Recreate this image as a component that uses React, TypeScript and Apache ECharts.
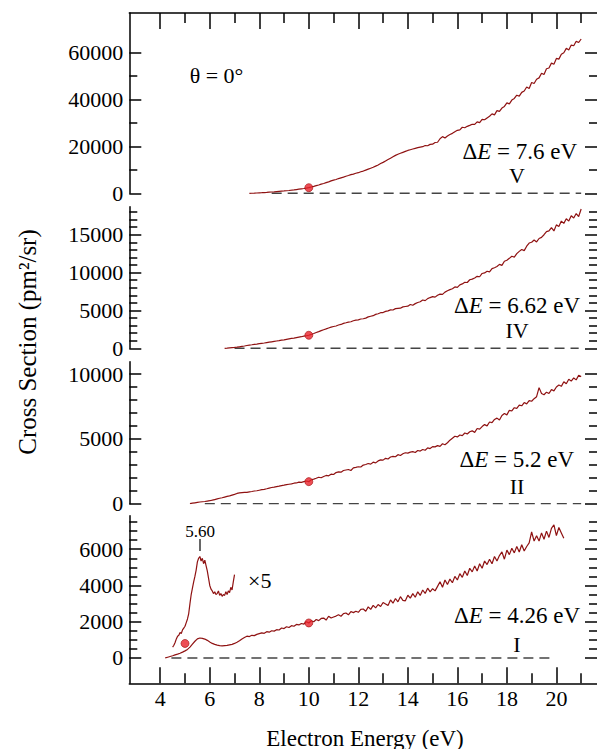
import React, { useEffect, useRef } from "react";
import * as echarts from "echarts";

// ---------- data (electron energy in eV, cross section in pm^2/sr) ----------
const STEP = 0.1;

// Panel V : ΔE = 7.6 eV
const V_START = 7.6;
const V_VALUES = [
  0, 30, 70, 130, 200, 260, 330, 400, 480, 560,
  640, 730, 820, 910, 1000, 1100, 1200, 1320, 1450, 1600,
  1750, 1900, 2050, 2220, 2400, 2680, 2950, 3250, 3550, 3900,
  4200, 4550, 4900, 5300, 5650, 5900, 6300, 6600, 6900, 7300,
  7600, 7950, 8200, 8550, 8800, 9200, 9500, 9900, 10300, 10700,
  11100, 11600, 12100, 12700, 13200, 13800, 14400, 15000, 15600, 16200,
  16700, 17100, 17500, 17900, 18300, 18600, 18900, 19200, 19500, 19700,
  19900, 20400, 20300, 20900, 21000, 21700, 21800, 23300, 24200, 23600,
  24500, 25100, 25600, 26300, 26900, 27100, 28200, 28000, 28600, 29000,
  29500, 29400, 30500, 30200, 31600, 31400, 32200, 32900, 33900, 33500,
  35300, 35000, 36400, 37100, 38600, 38200, 39800, 40500, 41900, 41500,
  43100, 43700, 45400, 44800, 47300, 46900, 48700, 49300, 51300, 50700,
  53200, 53500, 55600, 55100, 57600, 57300, 59400, 60000, 61900, 61200,
  63300, 63000, 64900, 64400, 65900,
];

// Panel IV : ΔE = 6.62 eV
const IV_START = 6.6;
const IV_VALUES = [
  0, 20, 50, 80, 110, 150, 200, 250, 300, 370,
  430, 470, 520, 560, 610, 660, 700, 760, 810, 860,
  910, 960, 1010, 1070, 1120, 1180, 1240, 1300, 1350, 1410,
  1470, 1530, 1600, 1660, 1720, 1830, 1950, 2080, 2200, 2330,
  2450, 2560, 2680, 2790, 2880, 2950, 3080, 3150, 3290, 3370,
  3460, 3510, 3640, 3720, 3760, 3870, 3900, 3990, 4150, 4230,
  4310, 4480, 4560, 4700, 4720, 4880, 4950, 5080, 5060, 5240,
  5280, 5300, 5470, 5520, 5560, 5780, 5690, 5900, 6050, 6150,
  6380, 6300, 6560, 6700, 6820, 6760, 7010, 7150, 7120, 7420,
  7600, 7750, 7860, 8100, 8050, 8380, 8500, 8720, 8690, 9050,
  9130, 9280, 9500, 9450, 9880, 9960, 10180, 10100, 10520, 10640,
  10800, 11080, 10950, 11500, 11620, 11880, 12150, 12050, 12500, 12800,
  13050, 12900, 13480, 13900, 14000, 14300, 14050, 14500, 14650, 15000,
  15400, 15500, 15950, 15500, 16300, 16100, 16800, 16500, 17100, 16800,
  17500, 17200, 17800, 17400, 18400,
];

// Panel II : ΔE = 5.2 eV
const II_START = 5.2;
const II_VALUES = [
  0, 40, 70, 100, 130, 150, 170, 200, 230, 270,
  320, 370, 420, 460, 510, 560, 600, 660, 720, 790,
  830, 850, 870, 880, 910, 940, 980, 1000, 1040, 1080,
  1110, 1150, 1200, 1250, 1280, 1320, 1350, 1400, 1430, 1470,
  1500, 1530, 1580, 1600, 1660, 1640, 1700, 1750, 1700, 1850,
  1900, 1960, 2040, 2000, 2100, 2180, 2150, 2280, 2250, 2400,
  2450, 2430, 2560, 2600, 2640, 2560, 2760, 2800, 2850, 2830,
  2980, 3020, 3100, 3050, 3200, 3150, 3300, 3380, 3360, 3500,
  3450, 3600, 3650, 3620, 3780, 3720, 3850, 3930, 3900, 3980,
  4020, 3950, 4100, 4060, 4180, 4120, 4300, 4250, 4400, 4380,
  4480, 4420, 4620, 4550, 4700, 4900, 5050, 5200, 5150, 5300,
  5250, 5450, 5380, 5550, 5620, 5500, 5800, 5750, 5950, 6100,
  6000, 6300, 6250, 6500, 6600, 6450, 6800, 6950, 6850, 7200,
  7150, 7400, 7350, 7600, 7550, 7800, 7700, 7950, 7900, 8100,
  8250, 8950, 8500, 8400, 8600, 8500, 8800, 8700, 9000, 9150,
  9050, 9400, 9250, 9600, 9450, 9700, 9550, 9900, 9800,
];

// Panel I : ΔE = 4.26 eV
const I_START = 4.2;
const I_VALUES = [
  0, 40, 80, 120, 170, 210, 260, 320, 390, 470,
  600, 760, 920, 1050, 1100, 1080, 1040, 970, 880, 800,
  750, 710, 680, 670, 680, 690, 720, 750, 800, 870,
  950, 1050, 1130, 1200, 1180, 1250, 1230, 1300, 1340, 1380,
  1360, 1450, 1420, 1500, 1480, 1560, 1540, 1650, 1620, 1720,
  1680, 1780, 1750, 1850, 1820, 1900, 1870, 2000, 1930, 2050,
  2000, 2120, 2060, 2180, 2200, 2090, 2300, 2200, 2260, 2310,
  2380, 2300, 2450, 2480, 2380, 2560, 2500, 2580, 2520, 2680,
  2700, 2580, 2820, 2680, 2900, 2760, 2950, 2840, 3060, 2980,
  2900, 3200, 3020, 3280, 3100, 3380, 3180, 3150, 3460, 3300,
  3550, 3350, 3650, 3450, 3750, 3560, 3850, 3650, 3820, 3700,
  3950, 4200, 3900, 4300, 4050, 4350, 4150, 4500, 4300, 4650,
  4450, 4800, 4550, 4950, 4750, 5080, 4800, 5200, 4950, 5350,
  5150, 5450, 5200, 5600, 5350, 5650, 5850, 5450, 5950, 5700,
  6050, 5800, 6150, 5850, 6250, 5900, 6150, 6350, 6950, 6450,
  6750, 6450, 6900, 6550, 7000, 6650, 7150, 7350, 6750, 7200,
  6900, 6600,
];

// Panel I, ×5 magnified near threshold
const X5_START = 4.5;
const X5_STEP = 0.05;
const X5_VALUES = [
  600, 700, 850, 1050, 1200, 1250, 1400, 1350, 1550, 1650,
  1750, 1950, 2150, 2450, 3000, 3500, 3850, 4200, 4500, 4850,
  5300, 5500, 5600, 5350, 5500, 5200, 5400, 5100, 4800, 4400,
  4000, 3800, 3700, 3550, 3650, 3500, 3550, 3700, 3450, 3550,
  3400, 3500, 3450, 3650, 3500, 3700, 3600, 3900, 3750, 4200,
  4600,
];

// Marked points
const DOTS_V = [[10, 2400]];
const DOTS_IV = [[10, 1720]];
const DOTS_II = [[10, 1700]];
const DOTS_I = [[5, 800], [10, 1930]];

// Zero (dashed) baselines: [start, end] energies
const BASE_V = [8.5, 21.0];
const BASE_IV = [7.0, 20.9];
const BASE_II = [5.8, 21.0];
const BASE_I = [4.45, 19.9];

// Axes
const X_MIN = 2.75;
const X_MAX = 21.64;
const X_MAJOR = [4, 6, 8, 10, 12, 14, 16, 18, 20];
const X_MINOR = [5, 7, 9, 11, 13, 15, 17, 19, 21];

const Y_RANGES = [
  [0, 77000],
  [0, 18700],
  [0, 10950],
  [-1400, 7850],
];
const Y_MAJOR = [
  [0, 20000, 40000, 60000],
  [0, 5000, 10000, 15000],
  [0, 5000, 10000],
  [0, 2000, 4000, 6000],
];
const Y_MINOR = [
  [10000, 30000, 50000],
  [1000, 2000, 3000, 4000, 6000, 7000, 8000, 9000, 11000, 12000, 13000, 14000, 16000, 17000, 18000],
  [1000, 2000, 3000, 4000, 6000, 7000, 8000, 9000],
  [500, 1000, 1500, 2500, 3000, 3500, 4500, 5000, 5500, 6500, 7000, 7500],
];

const PANEL_LABELS = ["7.6", "6.62", "5.2", "4.26"];
const PANEL_NUMERALS = ["V", "IV", "II", "I"];

// ---------- layout ----------
const FONT = "Liberation Serif";
const GRID_LEFT = 129.3;
const GRID_WIDTH = 468.7;
const GRIDS = [
  { top: 13, height: 180.3 },
  { top: 206.7, height: 141.6 },
  { top: 361.7, height: 142 },
  { top: 515.7, height: 167.6 },
];
const LINE_COLOR = "#8f1212";
const DOT_COLOR = "#e8222a";

function toPairs(start: number, step: number, vals: number[]) {
  return vals.map((v, i) => [Math.round((start + i * step) * 100) / 100, v]);
}

const axisLineStyle = { color: "#000", width: 1.5 };
const serifRich = (size: number) => ({
  s: { fontSize: size, fontFamily: FONT, color: "#000", fill: "#000" },
  i: { fontSize: size, fontFamily: FONT, fontStyle: "italic", color: "#000", fill: "#000" },
});

function xBase(gridIndex: number) {
  return {
    type: "value",
    gridIndex,
    min: X_MIN,
    max: X_MAX,
    splitLine: { show: false },
    axisLabel: { show: false },
    axisTick: { show: false },
    axisLine: { show: false, onZero: false },
  };
}

function buildXAxes() {
  return [
    {
      ...xBase(0),
      position: "top",
      axisLine: { show: true, onZero: false, lineStyle: axisLineStyle },
      axisTick: { show: true, inside: true, length: 16, customValues: X_MAJOR, lineStyle: axisLineStyle },
    },
    {
      ...xBase(0),
      position: "top",
      axisTick: { show: true, inside: true, length: 10, customValues: X_MINOR, lineStyle: axisLineStyle },
    },
    { ...xBase(1), show: false },
    { ...xBase(2), show: false },
    {
      ...xBase(3),
      position: "bottom",
      axisLine: { show: true, onZero: false, lineStyle: axisLineStyle },
      axisTick: { show: true, inside: true, length: 16, customValues: X_MAJOR, lineStyle: axisLineStyle },
      axisLabel: {
        show: true,
        customValues: X_MAJOR,
        fontSize: 22,
        fontFamily: FONT,
        color: "#000",
        margin: 4,
        formatter: (v: number) => `{s|${v}}`,
        rich: serifRich(22),
      },
    },
    {
      ...xBase(3),
      position: "bottom",
      axisTick: { show: true, inside: true, length: 10, customValues: X_MINOR, lineStyle: axisLineStyle },
    },
  ];
}
const X_INDEX = [0, 2, 3, 4];

function buildYAxes() {
  const out: any[] = [];
  for (let g = 0; g < 4; g++) {
    const base = {
      type: "value",
      gridIndex: g,
      min: Y_RANGES[g][0],
      max: Y_RANGES[g][1],
      splitLine: { show: false },
      axisLabel: { show: false },
      axisLine: { show: false, onZero: false },
    };
    out.push({
      ...base,
      position: "left",
      axisLine: { show: true, onZero: false, lineStyle: axisLineStyle },
      axisTick: { show: true, inside: true, length: 12, customValues: Y_MAJOR[g], lineStyle: axisLineStyle },
      axisLabel: {
        show: true,
        customValues: Y_MAJOR[g],
        fontSize: 22,
        fontFamily: FONT,
        color: "#000",
        margin: 6,
        formatter: (v: number) => `{s|${v}}`,
        rich: serifRich(22),
      },
    });
    out.push({
      ...base,
      position: "left",
      axisTick: { show: true, inside: true, length: 8, customValues: Y_MINOR[g], lineStyle: axisLineStyle },
    });
    out.push({
      ...base,
      position: "right",
      axisTick: { show: true, inside: true, length: 12, customValues: Y_MAJOR[g], lineStyle: axisLineStyle },
    });
    out.push({
      ...base,
      position: "right",
      axisTick: { show: true, inside: true, length: 8, customValues: Y_MINOR[g], lineStyle: axisLineStyle },
    });
  }
  return out;
}

function buildSeries() {
  const curves = [
    toPairs(V_START, STEP, V_VALUES),
    toPairs(IV_START, STEP, IV_VALUES),
    toPairs(II_START, STEP, II_VALUES),
    toPairs(I_START, STEP, I_VALUES),
  ];
  const bases = [BASE_V, BASE_IV, BASE_II, BASE_I];
  const dots = [DOTS_V, DOTS_IV, DOTS_II, DOTS_I];
  const s: any[] = [];
  for (let g = 0; g < 4; g++) {
    s.push({
      type: "line",
      xAxisIndex: X_INDEX[g],
      yAxisIndex: g * 4,
      data: bases[g].map((e) => [e, 0]),
      symbol: "none",
      silent: true,
      lineStyle: { color: "#444", width: 1.5, type: [10, 6] },
    });
  }
  for (let g = 0; g < 4; g++) {
    s.push({
      type: "line",
      xAxisIndex: X_INDEX[g],
      yAxisIndex: g * 4,
      data: curves[g],
      symbol: "none",
      lineStyle: { color: LINE_COLOR, width: 1.2 },
    });
  }
  s.push({
    type: "line",
    xAxisIndex: X_INDEX[3],
    yAxisIndex: 12,
    data: toPairs(X5_START, X5_STEP, X5_VALUES),
    symbol: "none",
    lineStyle: { color: LINE_COLOR, width: 1.2 },
  });
  for (let g = 0; g < 4; g++) {
    s.push({
      type: "scatter",
      xAxisIndex: X_INDEX[g],
      yAxisIndex: g * 4,
      data: dots[g],
      symbolSize: 8,
      itemStyle: { color: DOT_COLOR, borderColor: "#a01010", borderWidth: 0.8 },
      z: 5,
    });
  }
  return s;
}

function richText(x: number, y: number, text: string, size: number, align = "center", extra: any = {}) {
  return {
    type: "text",
    x,
    y,
    ...extra,
    style: {
      text,
      fill: "#000",
      textAlign: align,
      align,
      textVerticalAlign: "middle",
      verticalAlign: "middle",
      rich: serifRich(size),
    },
  };
}
const plain = (x: number, y: number, t: string, size: number, align = "center", extra: any = {}) =>
  richText(x, y, `{s|${t}}`, size, align, extra);

const DELTA_POS = [
  [577, 151],
  [580, 305],
  [574, 459],
  [580, 615],
];
const NUMERAL_POS = [
  [517, 175],
  [517, 330],
  [517, 486],
  [517, 644],
];

function buildGraphic() {
  const g: any[] = [];
  g.push(plain(216.5, 75, "θ = 0°", 22));
  for (let i = 0; i < 4; i++) {
    g.push(richText(DELTA_POS[i][0], DELTA_POS[i][1], `{s|Δ}{i|E}{s| = ${PANEL_LABELS[i]} eV}`, 23, "right"));
    g.push(plain(NUMERAL_POS[i][0], NUMERAL_POS[i][1], PANEL_NUMERALS[i], 22));
  }
  g.push(plain(200, 531, "5.60", 17));
  g.push({
    type: "line",
    shape: { x1: 200, y1: 539, x2: 200, y2: 551 },
    style: { stroke: "#000", lineWidth: 1.2 },
  });
  g.push(plain(248, 580, "×5", 22, "left"));
  g.push(plain(365, 738, "Electron Energy (eV)", 23));
  g.push(plain(27, 342, "Cross Section (pm²/sr)", 25, "center", { rotation: Math.PI / 2 }));
  return g;
}

export default function App() {
  const ref = useRef<HTMLDivElement>(null);
  useEffect(() => {
    if (!ref.current) return;
    const chart = echarts.init(ref.current, null, { renderer: "svg" });
    chart.setOption({
      animation: false,
      backgroundColor: "#fff",
      grid: GRIDS.map((gr) => ({ left: GRID_LEFT, width: GRID_WIDTH, top: gr.top, height: gr.height })),
      xAxis: buildXAxes(),
      yAxis: buildYAxes(),
      series: buildSeries(),
      graphic: buildGraphic(),
    });
    return () => chart.dispose();
  }, []);
  return (
    <div
      ref={ref}
      style={{ position: "absolute", left: 0, top: 0, width: 597, height: 749 }}
    />
  );
}
